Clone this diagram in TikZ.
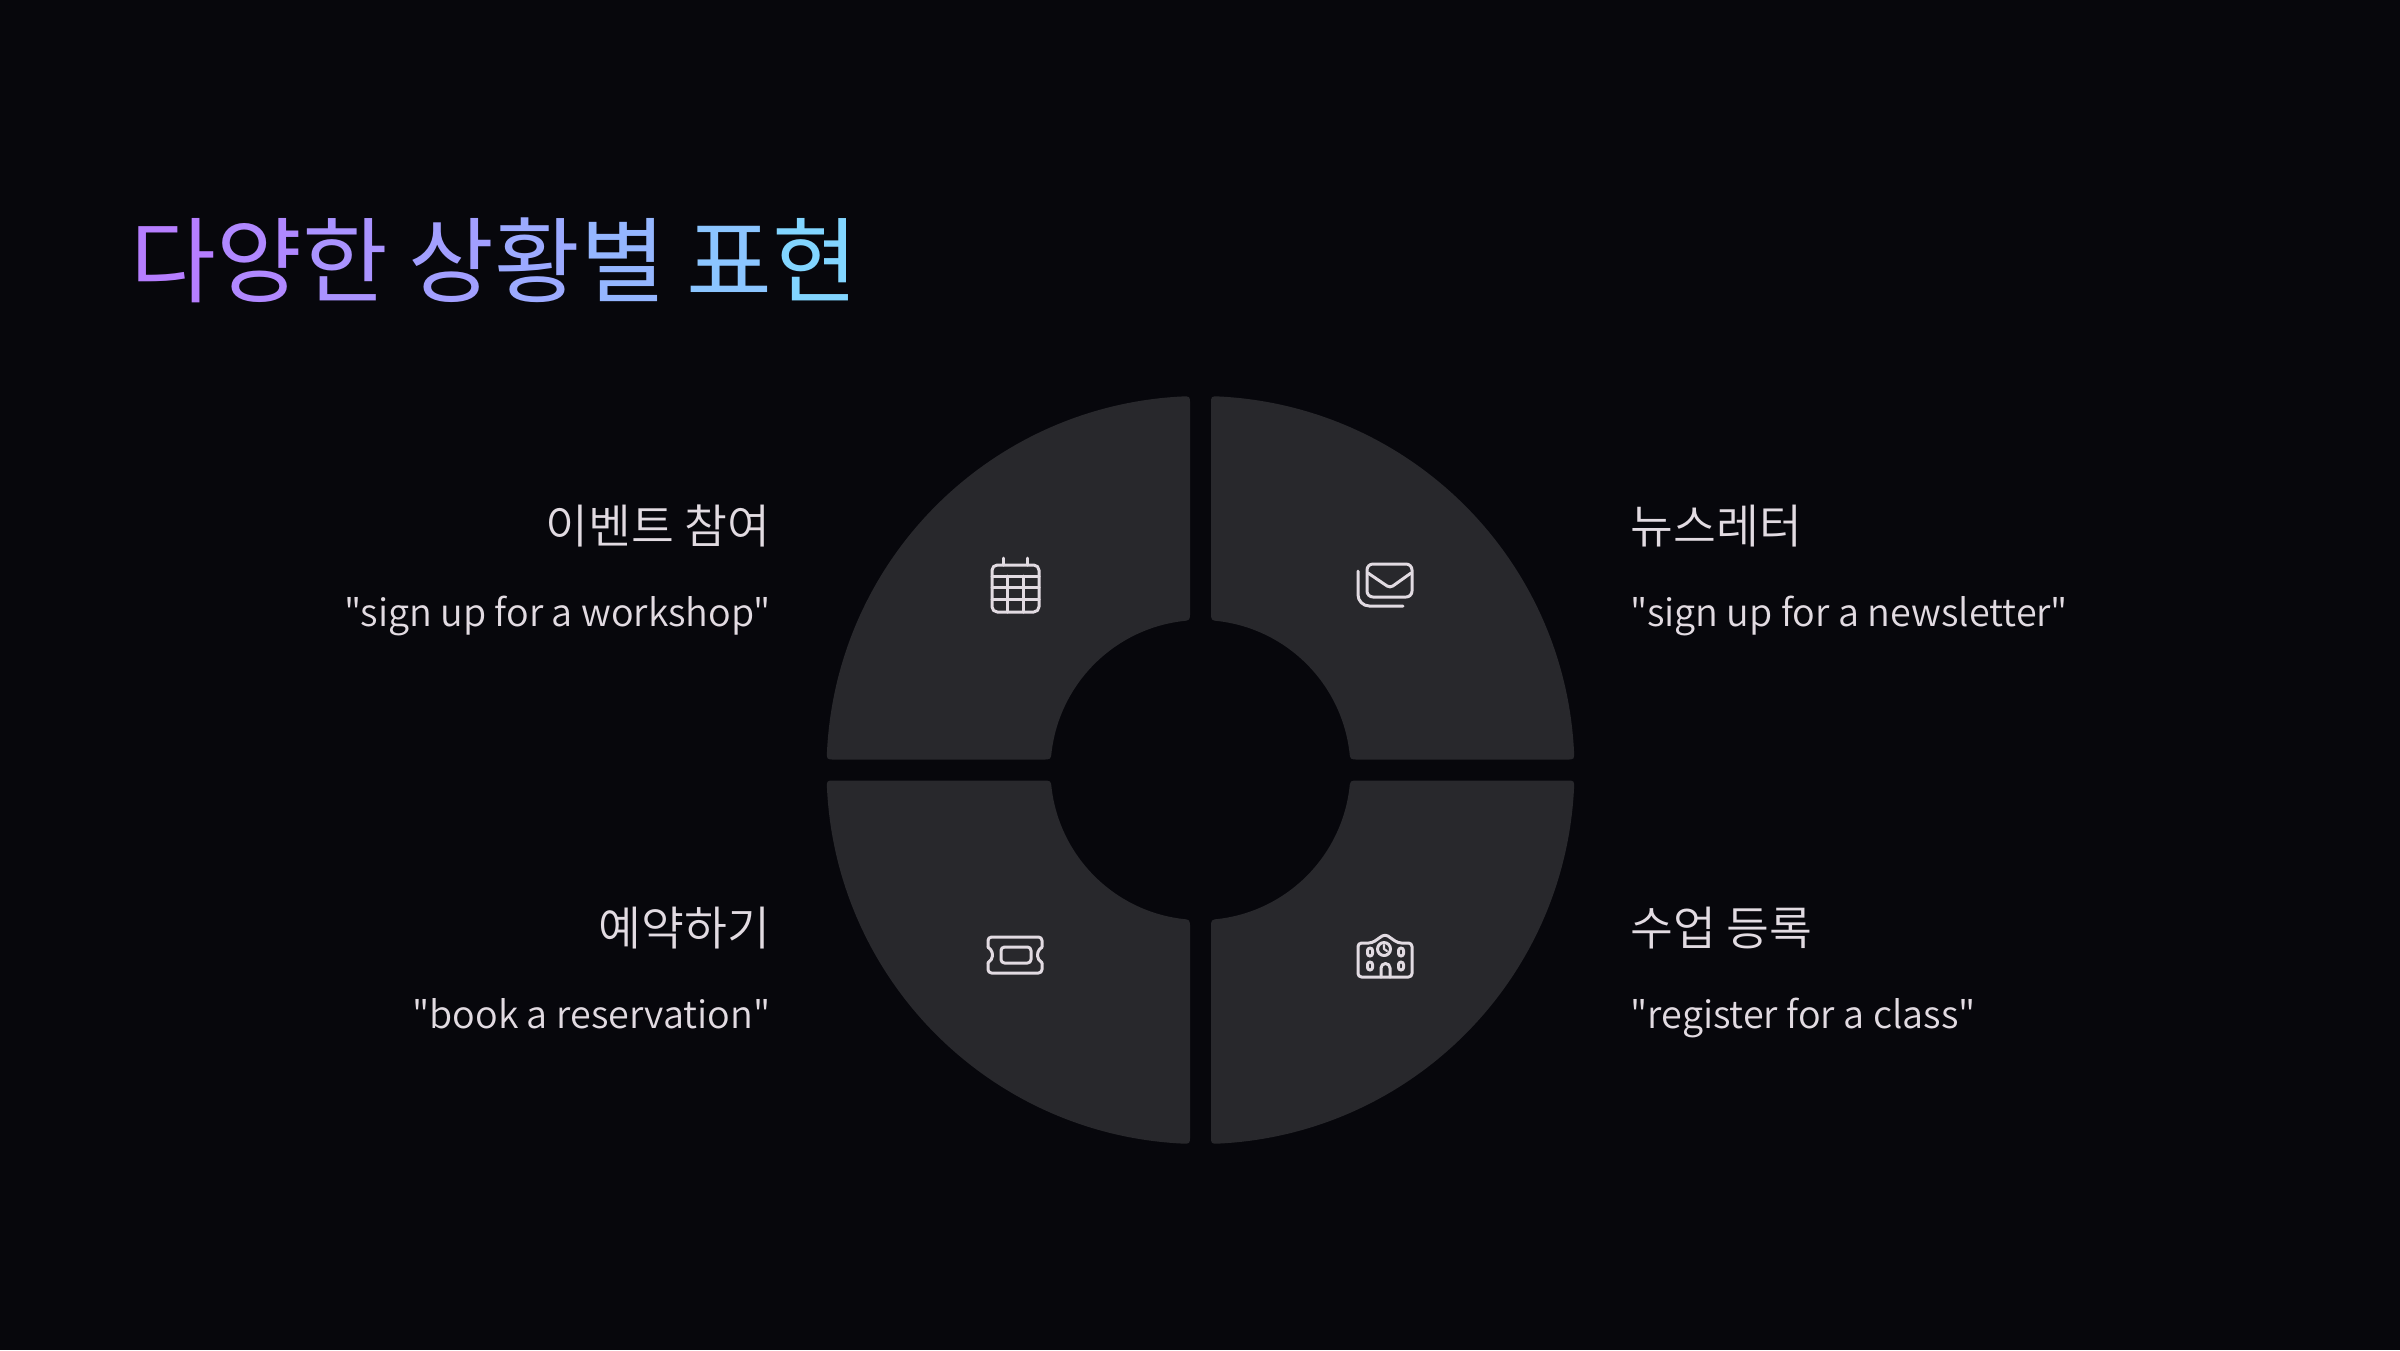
\documentclass[tikz,border=0pt]{standalone}
\usepackage{fontspec}
\newfontfamily\kofont{Noto Sans CJK KR}
\newfontfamily\kolight{Noto Sans CJK KR DemiLight}
\definecolor{pagebg}{HTML}{07070C}
\definecolor{quadcol}{HTML}{28282C}
\definecolor{textcol}{HTML}{E2DBE2}
\definecolor{titlea}{HTML}{B67EFF}
\definecolor{titleb}{HTML}{82D5FF}
\tikzset{
x=0.01cm, y=-0.01cm, % one unit is one pixel of the reference
quad/.style={fill=quadcol},
heading/.style={text=textcol, font=\kolight\fontsize{13.25pt}{15pt}\selectfont, anchor=base east, inner sep=0pt},
quote/.style={text=textcol, font=\kolight\fontsize{10.72pt}{14pt}\selectfont, anchor=base east, inner sep=0pt},
icon/.style={draw=textcol, line width=0.85pt, line cap=round, line join=round},
}
\newcommand{\quadpath}{(10.5,158) -- (10.5,366) .. controls (10.5,373.85) .. (18.5,373.54) arc (87.16:2.84:374) .. controls (373.85,10.5) .. (366,10.5) -- (158,10.5) .. controls (149.63,10.5) .. (148.86,18.46) arc (7.07:82.93:150) .. controls (10.5,149.63) .. (10.5,158) -- cycle}
\newcommand{\gradtext}[2]{\textcolor{titleb!#1!titlea}{#2}}
\begin{document}
\begin{tikzpicture}
\fill[pagebg] (0,0) rectangle (2400,1350);
% four quarters of the ring
\foreach \sx/\sy in {1/1,-1/1,1/-1,-1/-1}
  \fill[quad, shift={(1200.5,770)}, xscale=\sx, yscale=\sy] \quadpath;
% title
\node[anchor=base west, inner sep=0pt, font=\kofont\fontsize{26.5pt}{34pt}\selectfont] (title) at (130,295)
  {\gradtext{0}{다}\gradtext{12}{양}\gradtext{24}{한} \gradtext{38}{상}\gradtext{50}{황}\gradtext{64}{별} \gradtext{82}{표}\gradtext{100}{현}};
% left labels
\node[heading] (event) at (771,543) {이벤트 참여};
\node[quote, yshift=-0.83cm] (eventq) at (event.base east) {"sign up for a workshop"};
\node[heading] (book) at (771,945) {예약하기};
\node[quote, yshift=-0.83cm] (bookq) at (book.base east) {"book a reservation"};
% right labels
\node[heading, anchor=base west] (news) at (1630,543) {뉴스레터};
\node[quote, anchor=base west, yshift=-0.83cm] (newsq) at (news.base west) {"sign up for a newsletter"};
\node[heading, anchor=base west] (class) at (1630,945) {수업 등록};
\node[quote, anchor=base west, yshift=-0.83cm] (classq) at (class.base west) {"register for a class"};
% calendar
\draw[icon, rounded corners=1.5pt] (992,565) rectangle (1039,612);
\draw[icon] (1003,558) -- (1003,565) (1027,558) -- (1027,565);
\draw[icon] (992,576) -- (1039,576) (992,587) -- (1039,587) (992,599) -- (1039,599);
\draw[icon] (1007,576) -- (1007,612) (1023,576) -- (1023,612);
% envelope
\draw[icon, rounded corners=1.7pt] (1367,564) rectangle (1412,597);
\draw[icon, rounded corners=1pt] (1368,573) -- (1390,588) -- (1411,573);
\draw[icon, rounded corners=3.2pt] (1358,571) -- (1358,606) -- (1403,606);
% ticket
\draw[icon, rounded corners=1pt] (988,947.2) -- (988,937) -- (1042,937) -- (1042,947.2);
\draw[icon, rounded corners=1pt] (988,962.8) -- (988,973) -- (1042,973) -- (1042,962.8);
\draw[icon] (988,947.2) arc (-60:60:9) (1042,947.2) arc (240:120:9);
\draw[icon, rounded corners=1pt] (1001,947) rectangle (1031,963);
% school
\draw[icon, rounded corners=1pt] (1385,934) -- (1398,943) -- (1412,943) -- (1412,977) -- (1358,977) -- (1358,943) -- (1372,943) -- cycle;
\draw[icon] (1384,949) circle (6.5);
\draw[icon, line width=0.6pt] (1384,945) -- (1384,949) -- (1387,951);
\foreach \wx in {1370,1401} \foreach \wy in {952,966}
  \draw[icon, rounded corners=0.7pt] (\wx-2.5,\wy-4) rectangle (\wx+2.5,\wy+4);
\draw[icon] (1381,977) -- (1381,968) arc (180:360:4.5) -- (1390,977);
\end{tikzpicture}
\end{document}
